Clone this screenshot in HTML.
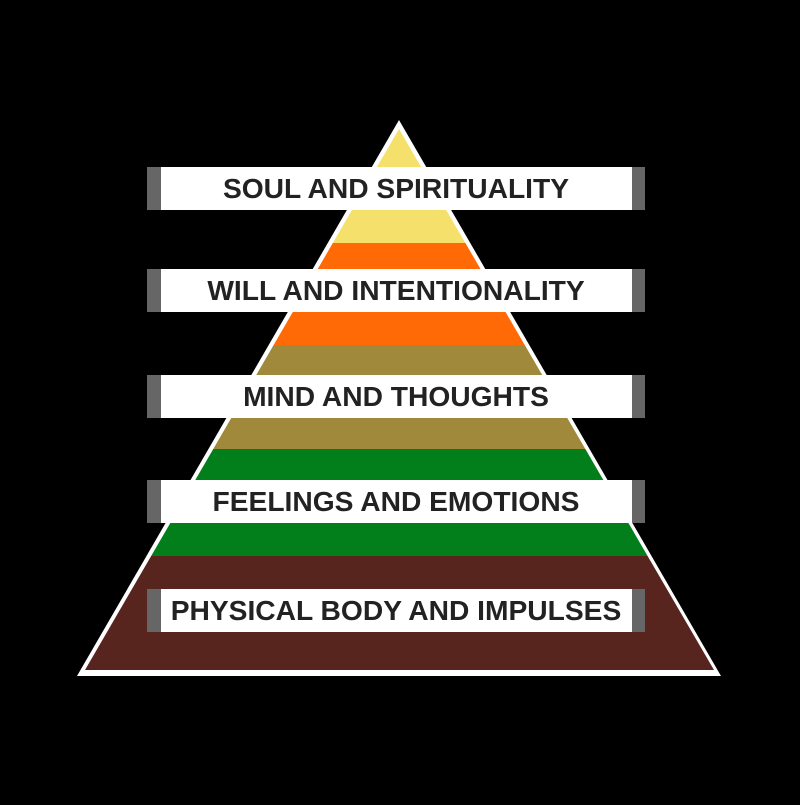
<!DOCTYPE html>
<html><head><style>body{margin:0;background:#000}</style></head><body>
<svg width="800" height="800" viewBox="0 0 800 800" xmlns="http://www.w3.org/2000/svg">
<rect width="800" height="800" fill="#000"/>
<defs><clipPath id="c"><polygon points="399,129 714,670 85,670"/></clipPath></defs>
<polygon points="399,120 721,676 77,676" fill="#fff"/>
<g clip-path="url(#c)">
<rect x="0" y="100" width="800" height="143" fill="#f4e06a"/>
<rect x="0" y="243" width="800" height="102" fill="#ff6a07"/>
<rect x="0" y="345" width="800" height="104" fill="#a0893a"/>
<rect x="0" y="449" width="800" height="107" fill="#027e1a"/>
<rect x="0" y="556" width="800" height="120" fill="#58241e"/>
</g>
<g font-family="Liberation Sans, sans-serif" font-weight="bold" font-size="28.2" fill="#222" text-anchor="middle">
<g transform="translate(0,167)"><rect x="147" width="498" height="43" fill="#fff"/><rect x="147" width="14" height="43" fill="#666"/><rect x="632" width="13" height="43" fill="#666"/><text x="396" y="31">SOUL AND SPIRITUALITY</text></g>
<g transform="translate(0,269)"><rect x="147" width="498" height="43" fill="#fff"/><rect x="147" width="14" height="43" fill="#666"/><rect x="632" width="13" height="43" fill="#666"/><text x="396" y="31">WILL AND INTENTIONALITY</text></g>
<g transform="translate(0,375)"><rect x="147" width="498" height="43" fill="#fff"/><rect x="147" width="14" height="43" fill="#666"/><rect x="632" width="13" height="43" fill="#666"/><text x="396" y="31">MIND AND THOUGHTS</text></g>
<g transform="translate(0,480)"><rect x="147" width="498" height="43" fill="#fff"/><rect x="147" width="14" height="43" fill="#666"/><rect x="632" width="13" height="43" fill="#666"/><text x="396" y="31">FEELINGS AND EMOTIONS</text></g>
<g transform="translate(0,589)"><rect x="147" width="498" height="43" fill="#fff"/><rect x="147" width="14" height="43" fill="#666"/><rect x="632" width="13" height="43" fill="#666"/><text x="396" y="31">PHYSICAL BODY AND IMPULSES</text></g>
</g>
</svg>
</body></html>
